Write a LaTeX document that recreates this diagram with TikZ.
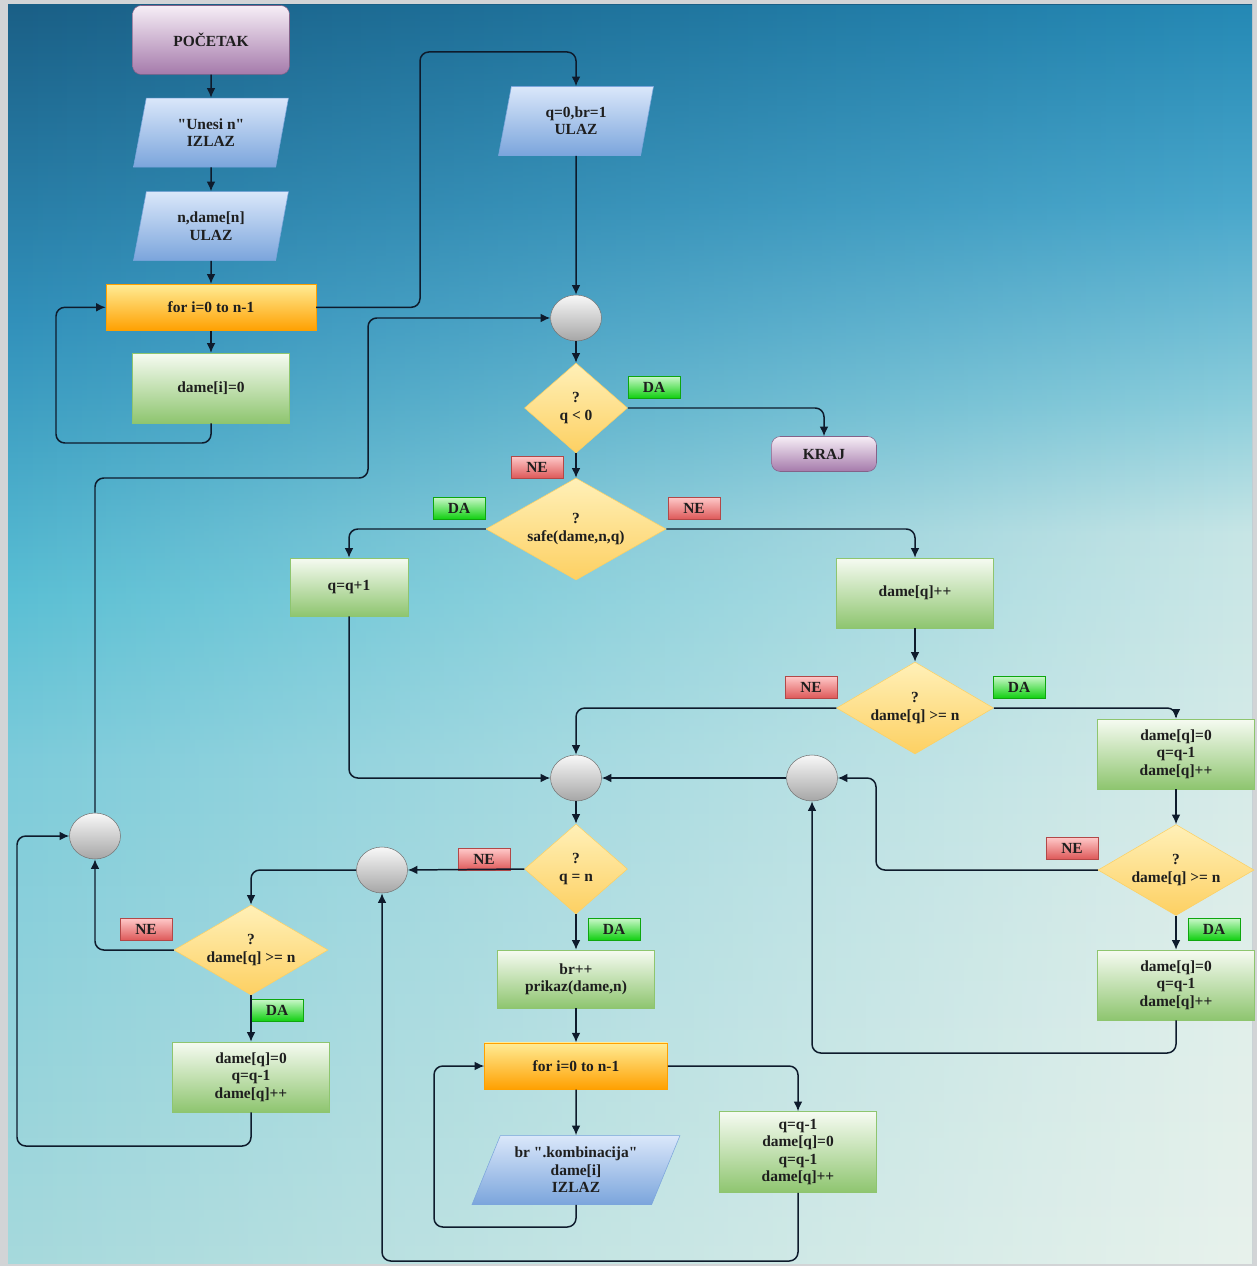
\documentclass[tikz,border=0pt]{standalone}
\usepackage{fontspec}
\setmainfont{Liberation Serif}
\usepackage{xcolor}
\usepackage{tikz}
\usetikzlibrary{shapes.geometric,arrows.meta,positioning,fadings}
\definecolor{frameGray}{HTML}{D2D4D6}
\definecolor{lineCol}{HTML}{0E1B2C}
\definecolor{fcText}{HTML}{1E1E1E}
\definecolor{termTop}{HTML}{F6EEF6}
\definecolor{termBot}{HTML}{A57AAB}
\definecolor{ioTop}{HTML}{DAE7FA}
\definecolor{ioBot}{HTML}{7BA5DC}
\definecolor{loopTop}{HTML}{FFEC96}
\definecolor{loopBot}{HTML}{FFA000}
\definecolor{procTop}{HTML}{F6FBF2}
\definecolor{procBot}{HTML}{8EC56F}
\definecolor{decTop}{HTML}{FFF0B8}
\definecolor{decBot}{HTML}{FDD062}
\definecolor{jointTop}{HTML}{F8F8F8}
\definecolor{jointBot}{HTML}{A6A6A6}
\definecolor{yesTop}{HTML}{CCF8CC}
\definecolor{yesBot}{HTML}{12D012}
\definecolor{noTop}{HTML}{FFCACA}
\definecolor{noBot}{HTML}{DE5A5A}
% pozadina: lijevi i desni rub, izmijesani preko fadinga
\pgfdeclareverticalshading{fc sky left}{100bp}{color(0bp)=(rgb,255:red,166;green,217;blue,220);
  color(25bp)=(rgb,255:red,166;green,217;blue,220); color(45bp)=(rgb,255:red,124;green,203;blue,218);
  color(51.5bp)=(rgb,255:red,90;green,191;blue,212); color(62.5bp)=(rgb,255:red,49;green,144;blue,186);
  color(75bp)=(rgb,255:red,26;green,95;blue,134); color(100bp)=(rgb,255:red,26;green,95;blue,134)}
\pgfdeclareverticalshading{fc sky right}{100bp}{color(0bp)=(rgb,255:red,232;green,242;blue,236);
  color(25bp)=(rgb,255:red,232;green,242;blue,236); color(40bp)=(rgb,255:red,222;green,238;blue,234);
  color(54bp)=(rgb,255:red,200;green,230;blue,230); color(59bp)=(rgb,255:red,142;green,207;blue,220);
  color(67bp)=(rgb,255:red,74;green,168;blue,204); color(75bp)=(rgb,255:red,37;green,137;blue,181);
  color(100bp)=(rgb,255:red,37;green,137;blue,181)}
\tikzfading[name=fc fade right, left color=transparent!100, right color=transparent!0]
\tikzset{
  fc base/.style={align=center, font=\fontsize{8.8}{9.9}\selectfont\bfseries, text=fcText, inner sep=1pt, line width=0.3pt},
  fc terminal/.style={fc base, rectangle, rounded corners=5pt, draw=termBot!80!black, top color=termTop, bottom color=termBot},
  fc io/.style={fc base, trapezium, trapezium left angle=68, trapezium right angle=112, trapezium stretches body, draw=ioBot, top color=ioTop, bottom color=ioBot, minimum width=3.1cm, minimum height=1.38cm},
  fc loop/.style={fc base, rectangle, draw=loopBot, top color=loopTop, bottom color=loopBot, minimum height=0.93cm},
  fc process/.style={fc base, rectangle, draw=procBot, top color=procTop, bottom color=procBot, minimum width=3.14cm, minimum height=1.4cm},
  fc decision/.style={fc base, diamond, draw=decBot, top color=decTop, bottom color=decBot, inner sep=0pt},
  fc joint/.style={ellipse, draw=jointBot!70!black, line width=0.3pt, top color=jointTop, bottom color=jointBot, minimum width=1.02cm, minimum height=0.92cm},
  fc yes/.style={fc base, rectangle, draw=yesBot!80!black, top color=yesTop, bottom color=yesBot, minimum width=1.04cm, minimum height=0.44cm, inner sep=0pt},
  fc no/.style={fc base, rectangle, draw=noBot!80!black, top color=noTop, bottom color=noBot, minimum width=1.04cm, minimum height=0.44cm, inner sep=0pt},
  fc arrow/.style={draw=lineCol, line width=0.85pt, rounded corners=5pt, -{Latex[length=5.5pt,width=5pt]}}
}

\begin{document}
\begin{tikzpicture}[x=0.02cm, y=-0.02cm]
    \useasboundingbox (0,0) rectangle (1257,1266);
    % background
    \fill[frameGray] (0,0) rectangle (1257,1266);
    \shade[shading=fc sky left] (8,5) rectangle (1252,1263);
    \shade[shading=fc sky right, path fading=fc fade right] (8,5) rectangle (1252,1263);

    % unos
    \node [fc terminal, minimum width=3.14cm, minimum height=1.38cm] (start) at (211,40) {POČETAK};
    \node [fc io, below=0.46cm of start] (unos) {\textquotedbl Unesi n\textquotedbl\\IZLAZ};
    \node [fc io, below=0.48cm of unos] (niz) {n,dame[n]\\ULAZ};
    \node [fc loop, minimum width=4.2cm, below=0.46cm of niz] (for1) {for i=0 to n-1};
    \node [fc process, below=0.44cm of for1] (nula) {dame[i]=0};

    % glavna petlja
    \node [fc io] (pocetni) at (576,121) {q=0,br=1\\ULAZ};
    \node [fc joint] (s1) at (576,318) {};
    \node [fc decision, aspect=1.14, minimum width=2.06cm, minimum height=1.8cm] (manje) at (576,408) {?\\q < 0};
    \node [fc terminal, minimum width=2.1cm, minimum height=0.7cm] (kraj) at (824,454) {KRAJ};
    \node [fc decision, aspect=1.76, minimum width=3.6cm, minimum height=2.04cm] (safe) at (576,529) {?\\safe(dame,n,q)};
    \node [fc process, minimum width=2.36cm, minimum height=1.16cm] (dalje) at (349,587) {q=q+1};
    \node [fc process] (plus) at (915,593) {dame[q]++};
    \node [fc decision, aspect=1.7, minimum width=3.14cm, minimum height=1.84cm] (veci1) at (915,708) {?\\dame[q] >= n};
    \node [fc joint] (s2) at (576,778) {};
    \node [fc joint] (s3) at (812,778) {};
    \node [fc process] (nazad1) at (1176,754) {dame[q]=0\\q=q-1\\dame[q]++};
    \node [fc decision, aspect=1.7, minimum width=3.12cm, minimum height=1.82cm] (veci2) at (1176,870) {?\\dame[q] >= n};
    \node [fc process] (nazad2) at (1176,985) {dame[q]=0\\q=q-1\\dame[q]++};

    % ispis
    \node [fc decision, aspect=1.14, minimum width=2.06cm, minimum height=1.8cm] (jednako) at (576,869) {?\\q = n};
    \node [fc joint] (s4) at (382,870) {};
    \node [fc decision, aspect=1.7, minimum width=3.08cm, minimum height=1.8cm] (veci3) at (251,950) {?\\dame[q] >= n};
    \node [fc joint] (s5) at (95,836) {};
    \node [fc process] (nazad3) at (251,1077) {dame[q]=0\\q=q-1\\dame[q]++};
    \node [fc process, minimum height=1.16cm] (ispis) at (576,979) {br++\\prikaz(dame,n)};
    \node [fc loop, minimum width=3.66cm] (for2) at (576,1066) {for i=0 to n-1};
    \node [fc io, trapezium left angle=60, trapezium right angle=120, minimum width=4.16cm] (komb) at (576,1170) {br \textquotedbl.kombinacija\textquotedbl\\dame[i]\\IZLAZ};
    \node [fc process, minimum height=1.62cm] (vrati) at (798,1152) {q=q-1\\dame[q]=0\\q=q-1\\dame[q]++};

    % DA / NE
    \node [fc yes] (da1) at (654,387) {DA};
    \node [fc no] (ne1) at (537,467) {NE};
    \node [fc yes] (da2) at (459,508) {DA};
    \node [fc no] (ne2) at (694,508) {NE};
    \node [fc no] (ne3) at (811,687) {NE};
    \node [fc yes] (da3) at (1019,687) {DA};
    \node [fc no] (ne4) at (1072,848) {NE};
    \node [fc yes] (da4) at (1214,929) {DA};
    \node [fc no] (ne5) at (484,859) {NE};
    \node [fc yes] (da5) at (614,929) {DA};
    \node [fc no] (ne6) at (146,929) {NE};
    \node [fc yes] (da6) at (277,1010) {DA};

    % veze
    \draw [fc arrow] (start) -- (unos);
    \draw [fc arrow] (unos) -- (niz);
    \draw [fc arrow] (niz) -- (for1);
    \draw [fc arrow] (for1) -- (nula);
    \draw [fc arrow] (nula.south) |- (56,443) |- (for1.west);
    \draw [fc arrow] (for1.east) -| (420,52) -| (pocetni.north);
    \draw [fc arrow] (pocetni) -- (s1);
    \draw [fc arrow] (s1) -- (manje);
    \draw [fc arrow] (manje.east) -| (kraj.north);
    \draw [fc arrow] (manje) -- (safe);
    \draw [fc arrow] (safe.west) -| (dalje.north);
    \draw [fc arrow] (safe.east) -| (plus.north);
    \draw [fc arrow] (plus) -- (veci1);
    \draw [fc arrow] (veci1.west) -| (s2.north);
    \draw [fc arrow] (veci1.east) -| (nazad1.north);
    \draw [fc arrow] (dalje.south) |- (s2.west);
    \draw [fc arrow] (nazad1) -- (veci2);
    \draw [fc arrow] (veci2.west) -| (876,778) -- (s3.east);
    \draw [fc arrow] (s3) -- (s2);
    \draw [fc arrow] (veci2) -- (nazad2);
    \draw [fc arrow] (nazad2.south) |- (812,1053) -- (s3.south);
    \draw [fc arrow] (s2) -- (jednako);
    \draw [fc arrow] (jednako.west) -- (s4.east);
    \draw [fc arrow] (s4.west) -| (veci3.north);
    \draw [fc arrow] (veci3.west) -| (s5.south);
    \draw [fc arrow] (veci3) -- (nazad3);
    \draw [fc arrow] (nazad3.south) |- (17,1146) |- (s5.west);
    \draw [fc arrow] (s5.north) |- (368,478) |- (s1.west);
    \draw [fc arrow] (jednako) -- (ispis);
    \draw [fc arrow] (ispis) -- (for2);
    \draw [fc arrow] (for2) -- (komb);
    \draw [fc arrow] (komb.south) |- (434,1227) |- (for2.west);
    \draw [fc arrow] (for2.east) -| (vrati.north);
    \draw [fc arrow] (vrati.south) |- (382,1261) -- (s4.south);
\end{tikzpicture}
\end{document}
